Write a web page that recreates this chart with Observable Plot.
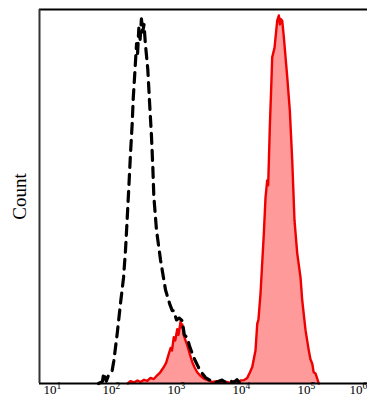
<!DOCTYPE html>
<html>
<head>
<meta charset="utf-8">
<script src="https://cdn.jsdelivr.net/npm/d3@7"></script>
<script src="https://cdn.jsdelivr.net/npm/@observablehq/plot@0.6"></script>
<style>
  html, body { margin: 0; padding: 0; background: #fff; overflow: hidden; }
</style>
</head>
<body>
<div id="chart"></div>
<script>
// Tick labels (decades of fluorescence intensity): base and exponent
const tickExp = [1, 2, 3, 4, 5, 6];
const tickBase = ["10", "10", "10", "10", "10", "10"];
const tickSup = ["1", "2", "3", "4", "5", "6"];

// Control (isotype) histogram: log10 intensity and count (% of max)
const controlLog = [1.80, 1.86, 1.88, 1.92, 1.95, 2.01, 2.035, 2.088, 2.138, 2.185, 2.215, 2.242, 2.266, 2.292, 2.318, 2.334, 2.358, 2.385, 2.40, 2.42, 2.44, 2.46, 2.48, 2.50, 2.52, 2.558, 2.589, 2.615, 2.635, 2.651, 2.692, 2.754, 2.831, 2.90, 2.934, 2.954, 3.00, 3.04, 3.088, 3.12, 3.165, 3.20, 3.242, 3.29, 3.338, 3.39, 3.446, 3.523, 3.60, 3.70, 3.76, 3.82, 3.88, 3.93, 3.97, 4.02];
const controlCount = [0, 0.5, 2.8, 0.6, 2.0, 3.5, 6.0, 13.4, 21.4, 28.3, 35.6, 44.4, 52.4, 61.5, 69.5, 76.2, 82.9, 90.9, 88.0, 95.0, 92.0, 97.5, 94.0, 96.0, 91.0, 84.0, 74.0, 66.0, 58.0, 50.0, 41.0, 33.0, 25.0, 21.0, 19.5, 19.5, 17.0, 17.5, 16.8, 13.0, 12.3, 10.0, 8.0, 6.0, 4.3, 2.8, 1.6, 0.8, 0.3, 0.9, 0.2, 0.7, 0.3, 1.0, 0.2, 0];

// Stained sample histogram
const stainedLog = [2.25, 2.29, 2.35, 2.40, 2.446, 2.50, 2.55, 2.60, 2.65, 2.703, 2.75, 2.805, 2.84, 2.882, 2.91, 2.93, 2.958, 2.98, 3.011, 3.03, 3.062, 3.075, 3.088, 3.11, 3.138, 3.16, 3.189, 3.21, 3.242, 3.28, 3.318, 3.36, 3.42, 3.48, 3.549, 3.62, 3.677, 3.75, 3.82, 3.88, 3.923, 3.985, 4.035, 4.088, 4.13, 4.165, 4.215, 4.242, 4.26, 4.292, 4.343, 4.369, 4.395, 4.41, 4.435, 4.462, 4.472, 4.508, 4.549, 4.574, 4.59, 4.60, 4.626, 4.651, 4.703, 4.743, 4.78, 4.815, 4.857, 4.908, 4.934, 4.985, 5.035, 5.06, 5.088, 5.11, 5.138, 5.189];
const stainedCount = [0, 0.6, 0.3, 0.8, 0.4, 1.0, 0.7, 1.5, 1.2, 2.2, 3.0, 4.4, 5.5, 8.0, 9.5, 8.8, 12.4, 11.5, 14.5, 13.0, 16.5, 15.0, 15.8, 13.0, 11.5, 10.5, 8.8, 7.5, 5.7, 4.2, 3.0, 2.2, 1.3, 0.9, 0.4, 0.6, 0.2, 0.5, 0.2, 0.6, 0.3, 0.8, 0.9, 1.5, 3.0, 4.4, 8.8, 16.0, 17.0, 24.0, 40.0, 49.7, 54.3, 53.0, 68.4, 81.8, 87.2, 89.8, 97.0, 98.4, 96.0, 97.5, 97.0, 92.6, 82.0, 73.0, 59.6, 43.6, 34.8, 28.3, 22.2, 14.2, 8.8, 6.5, 5.3, 3.0, 2.7, 0];

const control = controlLog.map((t, i) => ({x: Math.pow(10, t), y: controlCount[i]}));
const stained = stainedLog.map((t, i) => ({x: Math.pow(10, t), y: stainedCount[i]}));
const ticks = tickExp.map((e, i) => ({x: Math.pow(10, e), base: tickBase[i], sup: tickSup[i]}));

const xMin = Math.pow(10, 0.892), xMax = Math.pow(10, 5.938);
const labelFont = "'Liberation Serif', 'DejaVu Serif', serif";

// Tick label = "10" (ending just right of the tick) + exponent (starting there)
function tickLabel(data, shift) {
  return [
    Plot.text(data, {x: "x", text: "base", frameAnchor: "bottom", lineAnchor: "bottom", textAnchor: "end",
      dy: 10, dx: 4 + shift, fontSize: 13, fontFamily: labelFont, fill: "#000"}),
    Plot.text(data, {x: "x", text: "sup", frameAnchor: "bottom", lineAnchor: "bottom", textAnchor: "start",
      dy: 5, dx: 4 + shift, fontSize: 9.5, fontFamily: labelFont, fill: "#000"})
  ];
}

const chart = Plot.plot({
  width: 367,
  height: 396,
  marginLeft: 39,
  marginRight: 0,
  marginTop: 9,
  marginBottom: 13,
  style: {fontFamily: labelFont, background: "#fff", overflow: "visible"},
  x: {type: "log", domain: [xMin, xMax], axis: null},
  y: {domain: [0, 100], axis: null},
  marks: [
    Plot.areaY(stained, {x: "x", y: "y", fill: "#ff9a9a"}),
    Plot.lineY(stained, {x: "x", y: "y", stroke: "#ee0000", strokeWidth: 2.4, strokeLinejoin: "round"}),
    Plot.lineY(control, {x: "x", y: "y", stroke: "#000", strokeWidth: 3.2, strokeDasharray: "10,7"}),
    Plot.ruleY([0], {stroke: "#000", strokeWidth: 2}),
    Plot.ruleY([100], {stroke: "#000", strokeWidth: 2}),
    Plot.ruleX([xMin], {stroke: "#333", strokeWidth: 2}),
    ...tickLabel(ticks.slice(0, 1), 6),
    ...tickLabel(ticks.slice(1, 5), 0),
    ...tickLabel(ticks.slice(5), -13),
    Plot.text(["Count"], {frameAnchor: "left", textAnchor: "middle", dx: -20, rotate: -90, fontSize: 19, fontFamily: labelFont, fill: "#000"})
  ]
});
document.getElementById("chart").appendChild(chart);
</script>
</body>
</html>
